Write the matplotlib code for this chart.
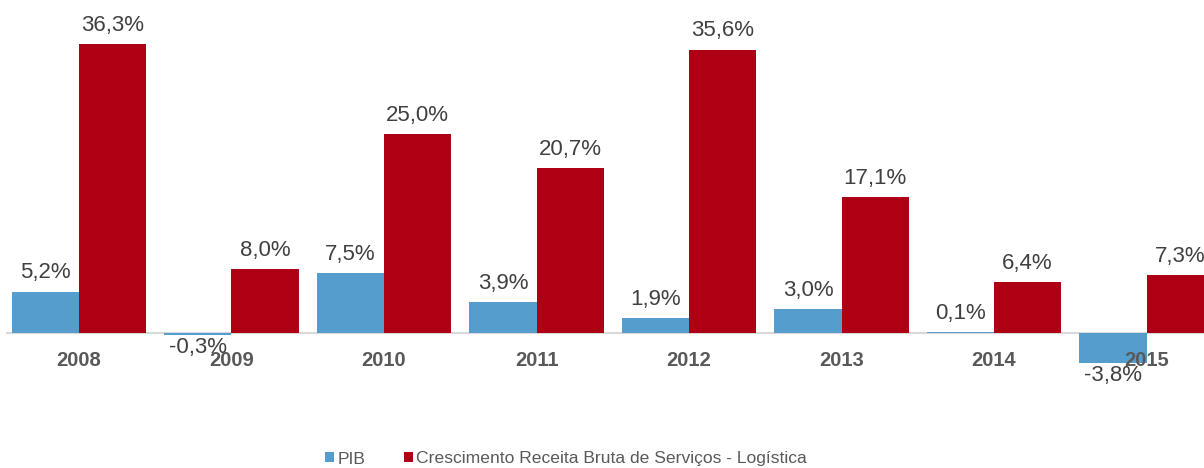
import matplotlib
matplotlib.use("Agg")
import matplotlib.pyplot as plt
from matplotlib.patches import Patch
import numpy as np

years = ["2008", "2009", "2010", "2011", "2012", "2013", "2014", "2015"]
pib = [5.2, -0.3, 7.5, 3.9, 1.9, 3.0, 0.1, -3.8]
receita = [36.3, 8.0, 25.0, 20.7, 35.6, 17.1, 6.4, 7.3]
series_names = ["PIB", "Crescimento Receita Bruta de Serviços - Logística"]

blue = "#559DCD"
red = "#AE0015"
text_gray = "#404040"
cat_gray = "#595959"

plt.rcParams["font.family"] = ["Liberation Sans", "DejaVu Sans"]

W, H = 1204, 468
fig = plt.figure(figsize=(W / 100, H / 100), dpi=100)
ax = fig.add_axes([0, 0, 1, 1])

x = np.arange(len(years))
w = 0.44
b1 = ax.bar(x - w / 2, pib, width=w, color=blue, zorder=2)
b2 = ax.bar(x + w / 2, receita, width=w, color=red, zorder=2)

def fmt(v):
    return f"{v:.1f}%".replace(".", ",")

for bars, vals in ((b1, pib), (b2, receita)):
    for rect, v in zip(bars, vals):
        cx = rect.get_x() + rect.get_width() / 2
        if v >= 0:
            ax.annotate(fmt(v), (cx, v), xytext=(0, 6), textcoords="offset points",
                        ha="center", va="bottom", fontsize=16, color=text_gray, zorder=4)
        else:
            ax.annotate(fmt(v), (cx, v), xytext=(0, -1), textcoords="offset points",
                        ha="center", va="top", fontsize=16, color=text_gray, zorder=4)

# category labels
for xi, yl in zip(x, years):
    ax.annotate(yl, (xi, 0), xytext=(0, -20), textcoords="offset points",
                ha="center", va="center", fontsize=14.5, fontweight="bold",
                color=cat_gray, zorder=5)

ax.set_xlim(-0.518, 7.377)
ax.set_ylim(-16.96, 41.83)
ax.axhline(0, xmin=0.006, xmax=1, color="#D9D9D9", lw=1.5, zorder=1)
for s in ax.spines.values():
    s.set_visible(False)
ax.set_xticks([])
ax.set_yticks([])

handles = [Patch(facecolor=blue, edgecolor="none"), Patch(facecolor=red, edgecolor="none")]
fig.legend(handles, series_names, loc="center", bbox_to_anchor=(566 / W, 1 - 459 / H),
           ncol=2, frameon=False, fontsize=12.6, handlelength=0.5, handleheight=0.5,
           handletextpad=0.2, columnspacing=2.2, labelcolor=cat_gray)

fig.savefig("out.png", dpi=100)
